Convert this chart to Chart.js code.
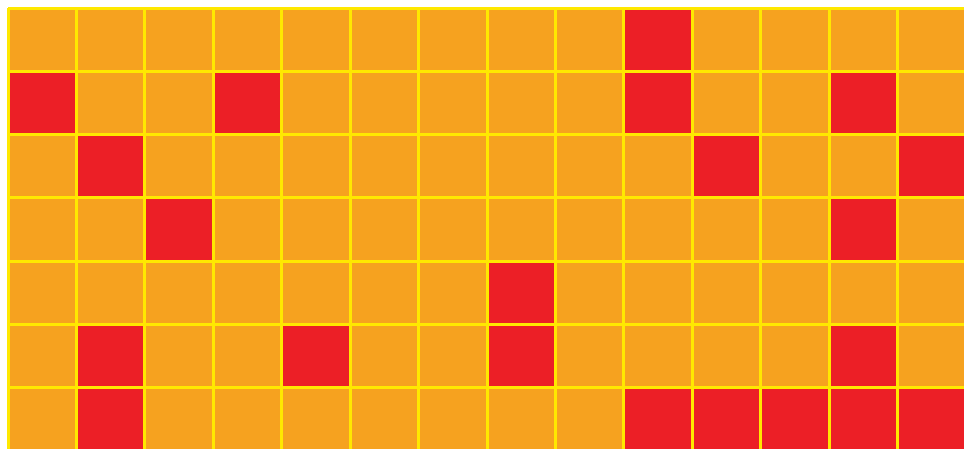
<!DOCTYPE html>
<html>
<head>
<meta charset="utf-8">
<script src="https://cdn.jsdelivr.net/npm/chart.js@4/dist/chart.umd.min.js"></script>
<style>
  html, body { margin: 0; padding: 0; background: #fff; overflow: hidden; }
  #wrap { width: 966px; height: 451px; }
</style>
</head>
<body>
<div id="wrap"><canvas id="grid"></canvas></div>
<script>
(function () {
    'use strict';

    //COLUMNS OF THE GRID
    const columns = ['1', '2', '3', '4', '5', '6', '7', '8', '9', '10', '11', '12', '13', '14'];

    //ROWS, TOP TO BOTTOM (1 = red cell, 0 = orange cell)
    const row1 = [0, 0, 0, 0, 0, 0, 0, 0, 0, 1, 0, 0, 0, 0];
    const row2 = [1, 0, 0, 1, 0, 0, 0, 0, 0, 1, 0, 0, 1, 0];
    const row3 = [0, 1, 0, 0, 0, 0, 0, 0, 0, 0, 1, 0, 0, 1];
    const row4 = [0, 0, 1, 0, 0, 0, 0, 0, 0, 0, 0, 0, 1, 0];
    const row5 = [0, 0, 0, 0, 0, 0, 0, 1, 0, 0, 0, 0, 0, 0];
    const row6 = [0, 1, 0, 0, 1, 0, 0, 1, 0, 0, 0, 0, 1, 0];
    const row7 = [0, 1, 0, 0, 0, 0, 0, 0, 0, 1, 1, 1, 1, 1];

    const rows = [row1, row2, row3, row4, row5, row6, row7];

    const orange = '#F6A21F';
    const red    = '#EC1F26';
    const yellow = '#FFE800';

    let datasets = rows.map(function (row, i) {
        return {
            label: 'Row ' + (i + 1),
            data: row.map(function () { return 1; }),
            backgroundColor: row.map(function (v) { return v ? red : orange; }),
            borderWidth: 0,
            categoryPercentage: 1,
            barPercentage: 1
        };
    });

    new Chart(document.getElementById('grid'), {
        type: 'bar',
        data: {
            labels: columns,
            datasets: datasets
        },
        options: {
            responsive: true,
            maintainAspectRatio: false,
            animation: false,
            layout: {
                padding: { left: 8, top: 8, right: 0, bottom: 0 }
            },
            plugins: {
                legend: { display: false },
                tooltip: { enabled: false }
            },
            scales: {
                x: {
                    stacked: true,
                    ticks: { display: false },
                    grid: { color: yellow, lineWidth: 3, drawTicks: false, offset: true, z: 1 },
                    border: { display: false }
                },
                y: {
                    stacked: true,
                    reverse: true,
                    min: 0,
                    max: 7,
                    ticks: { display: false, stepSize: 1 },
                    grid: { color: yellow, lineWidth: 3, drawTicks: false, z: 1 },
                    border: { display: false }
                }
            }
        }
    });

})();
</script>
</body>
</html>
